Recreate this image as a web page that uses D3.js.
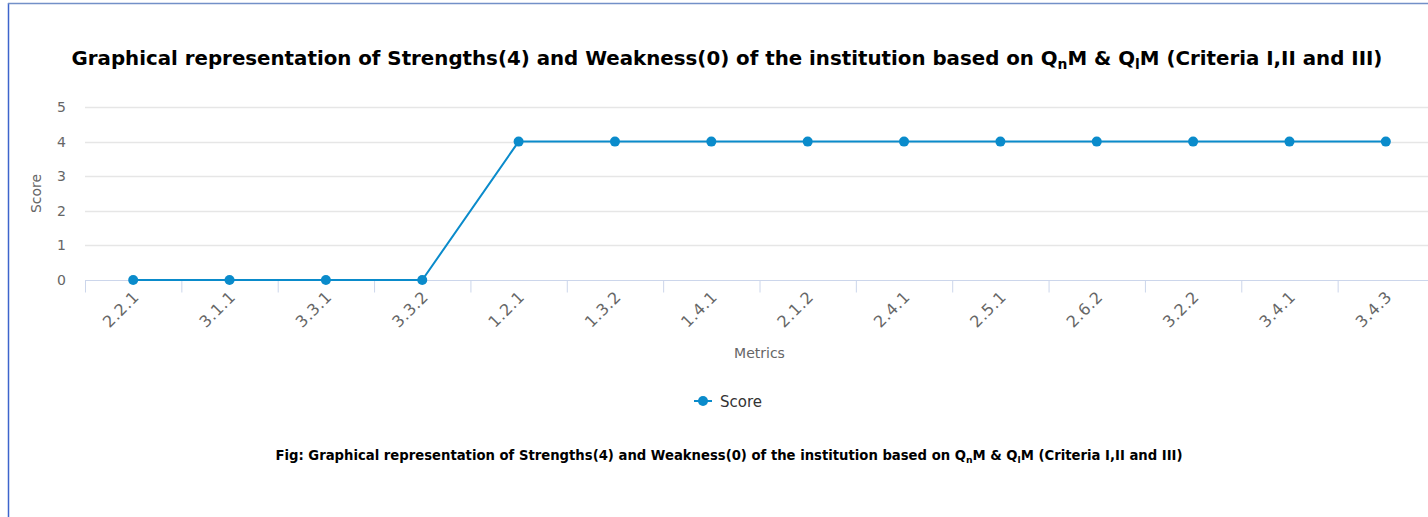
<!DOCTYPE html>
<html>
<head>
<meta charset="utf-8">
<script src="https://cdn.jsdelivr.net/npm/d3@7"></script>
<style>
  body { margin: 0; background: #fff; }
  svg { display: block; font-family: "DejaVu Sans", Verdana, sans-serif; }
</style>
</head>
<body>
<div id="chart"></div>
<script>
// chart data
var metrics = ['2.2.1', '3.1.1', '3.3.1', '3.3.2', '1.2.1', '1.3.2', '1.4.1',
               '2.1.2', '2.4.1', '2.5.1', '2.6.2', '3.2.2', '3.4.1', '3.4.3'];
var scores = [0, 0, 0, 0, 4, 4, 4, 4, 4, 4, 4, 4, 4, 4];
var yTicks = [0, 1, 2, 3, 4, 5];
var seriesName = 'Score';
var titleParts = ['Graphical representation of Strengths(4) and Weakness(0) of the institution based on Q', 'n', 'M & Q', 'l', 'M (Criteria I,II and III)'];

var W = 1428, H = 517,
    plotLeft = 85, plotRight = 1434, plotTop = 107, plotBottom = 280,
    lineColor = '#0a8bcb';

var svg = d3.select('#chart').append('svg')
    .attr('width', W)
    .attr('height', H);

// frame borders
svg.append('line').attr('x1', 8.5).attr('x2', 8.5).attr('y1', 3).attr('y2', H)
    .style('stroke', '#3d64cc').style('stroke-width', 1.5);
svg.append('line').attr('x1', 8).attr('x2', W).attr('y1', 3.5).attr('y2', 3.5)
    .style('stroke', '#7390c8').style('stroke-width', 1.5);

var x = d3.scaleBand().domain(metrics).range([plotLeft, plotRight]);
var y = d3.scaleLinear().domain([0, 5]).range([plotBottom, plotTop]);

function fitText(sel, target){
    var w = sel.node().getComputedTextLength();
    var fs = parseFloat(sel.attr('font-size')) * target / w;
    sel.attr('font-size', fs);
    sel.selectAll('tspan.sub').attr('font-size', fs * 0.7);
}

function addTitle(cx, cy, fs, prefix, target){
    var t = svg.append('text')
        .attr('x', cx).attr('y', cy)
        .attr('text-anchor', 'middle')
        .attr('font-size', fs)
        .attr('font-weight', 'bold')
        .attr('fill', '#000');
    titleParts.forEach(function(p, i){
        var ts = t.append('tspan').text(i === 0 ? prefix + p : p);
        if (i % 2 === 1) {
            ts.attr('class', 'sub').attr('font-size', fs * 0.7).attr('dy', fs * 0.22);
        } else if (i > 0) {
            ts.attr('dy', -fs * 0.22);
        }
    });
    fitText(t, target);
    return t;
}

addTitle(727, 65, 20, '', 1312);

// gridlines
svg.append('g')
    .selectAll('line')
    .data(yTicks.filter(function(d){ return d > 0; }))
    .enter()
    .append('line')
    .attr('x1', plotLeft).attr('x2', plotRight)
    .attr('y1', function(d){ return Math.round(y(d)) + 0.5; })
    .attr('y2', function(d){ return Math.round(y(d)) + 0.5; })
    .style('stroke', '#e6e6e6').style('stroke-width', 1.5);

// y axis labels
svg.append('g')
    .selectAll('text')
    .data(yTicks)
    .enter()
    .append('text')
    .text(function(d){ return d; })
    .attr('x', 66)
    .attr('y', function(d){ return y(d) + 5; })
    .attr('text-anchor', 'end')
    .attr('font-size', 14)
    .attr('fill', '#666');

svg.append('text')
    .text('Score')
    .attr('transform', 'translate(41,' + (plotTop + plotBottom) / 2 + ') rotate(-90)')
    .attr('text-anchor', 'middle')
    .attr('font-size', 14)
    .attr('fill', '#666');

// x axis line + ticks
var xAxis = svg.append('g')
    .attr('transform', 'translate(0,' + (plotBottom + 0.5) + ')')
    .call(d3.axisBottom(d3.scaleLinear().domain([0, metrics.length]).range([plotLeft, plotRight]))
        .tickValues(d3.range(metrics.length + 1))
        .tickSize(12)
        .tickFormat(''));
xAxis.select('.domain').attr('stroke', '#ccd6eb').attr('d', 'M' + plotLeft + ',0H' + plotRight);
xAxis.selectAll('.tick line').attr('stroke', '#ccd6eb');

// x labels
svg.append('g')
    .selectAll('text')
    .data(metrics)
    .enter()
    .append('text')
    .text(function(d){ return d; })
    .attr('transform', function(d){
        return 'translate(' + (x(d) + x.bandwidth() / 2 + 7) + ',' + (plotBottom + 18) + ') rotate(-45)';
    })
    .attr('text-anchor', 'end')
    .attr('font-size', 16)
    .attr('letter-spacing', 0.5)
    .attr('fill', '#666');

svg.append('text')
    .text('Metrics')
    .attr('x', (plotLeft + plotRight) / 2)
    .attr('y', 358)
    .attr('text-anchor', 'middle')
    .attr('font-size', 14)
    .attr('fill', '#666');

// series line
var line = d3.line()
    .x(function(d, i){ return x(metrics[i]) + x.bandwidth() / 2; })
    .y(function(d){ return y(d); });

svg.append('path')
    .datum(scores)
    .attr('d', line)
    .attr('fill', 'none')
    .attr('stroke', lineColor)
    .attr('stroke-width', 2);

svg.append('g')
    .selectAll('circle')
    .data(scores)
    .enter()
    .append('circle')
    .attr('cx', function(d, i){ return x(metrics[i]) + x.bandwidth() / 2; })
    .attr('cy', function(d){ return y(d); })
    .attr('r', 5)
    .attr('fill', lineColor);

// legend
var lg = svg.append('g').attr('transform', 'translate(694,401)');
lg.append('line').attr('x1', 0).attr('x2', 18).attr('y1', 0).attr('y2', 0)
    .attr('stroke', lineColor).attr('stroke-width', 2);
lg.append('circle').attr('cx', 9).attr('cy', 0).attr('r', 5).attr('fill', lineColor);
lg.append('text').text(seriesName)
    .attr('x', 26).attr('y', 5.5)
    .attr('font-size', 15)
    .attr('fill', '#333');

// caption
addTitle(729, 460, 14, 'Fig: ', 908);
</script>
</body>
</html>
